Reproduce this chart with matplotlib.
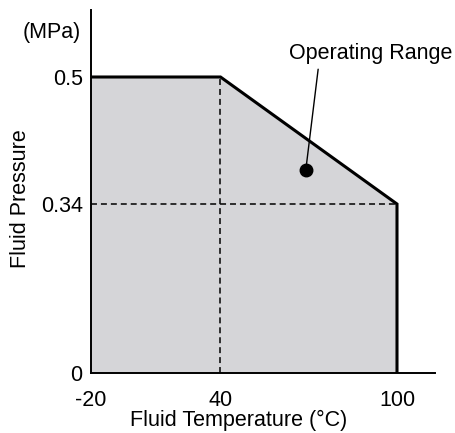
import numpy as np
import matplotlib
matplotlib.use("Agg")
import matplotlib.pyplot as plt

# ---- data ----
temp = [-20, 40, 100]            # fluid temperature (°C) boundary points
pressure = [0.5, 0.5, 0.34]      # max fluid pressure (MPa) at those temperatures
x_ticks = [-20, 40, 100]
x_ticklabels = ["-20", "40", "100"]
y_ticks = [0, 0.34, 0.5]
y_ticklabels = ["0", "0.34", "0.5"]
op_point = (69, 0.383)           # "Operating Range" marker
label_text = "Operating Range"
x_title = "Fluid Temperature (°C)"
y_title = "Fluid Pressure"
y_unit = "(MPa)"

# ---- schematic (non-linear) axis scales: value knots -> display knots ----
XK_VAL = [-20, 40, 100, 160]
XK_POS = [0.0, 129.5, 306.0, 483.0]
YK_VAL = [0, 0.34, 0.5, 0.66]
YK_POS = [0.0, 169.0, 296.0, 423.0]

def fwd_x(v):
    return np.interp(v, XK_VAL, XK_POS)

def inv_x(p):
    return np.interp(p, XK_POS, XK_VAL)

def fwd_y(v):
    return np.interp(v, YK_VAL, YK_POS)

def inv_y(p):
    return np.interp(p, YK_POS, YK_VAL)

plt.rcParams['font.family'] = ['Liberation Sans', 'DejaVu Sans']
FS = 15.5

fig = plt.figure(figsize=(4.56, 4.33), dpi=100)
ax = fig.add_axes([91 / 456, 60 / 433, (435 - 91) / 456, (373 - 10) / 433])
ax.set_xscale('function', functions=(fwd_x, inv_x))
ax.set_yscale('function', functions=(fwd_y, inv_y))
ax.set_xlim(-20, inv_x(344))
ax.set_ylim(0, inv_y(363))

# filled operating region
ax.fill_between(temp, pressure, 0, color='#d5d5d8', lw=0, zorder=1)

# dashed reference lines
dash = (0, (3.9, 2.6))
ax.plot([temp[0], temp[-1]], [pressure[-1], pressure[-1]], color='black',
        lw=1.1, linestyle=dash, zorder=2)
ax.plot([temp[1], temp[1]], [0, pressure[1]], color='black',
        lw=1.1, linestyle=dash, zorder=2)

# boundary
ax.plot(temp + [temp[-1]], pressure + [0], color='black', lw=2.2,
        solid_joinstyle='miter', zorder=3)

# operating range marker + leader
ax.plot([op_point[0]], [op_point[1]], 'o', color='black', ms=9, zorder=5)
ax.annotate(label_text, xy=op_point, xytext=(91.2, 0.530), textcoords='data',
            ha='center', va='center', fontsize=FS,
            arrowprops=dict(arrowstyle='-', color='black', lw=1.0,
                            relpos=(0.18, 0.0), shrinkA=2, shrinkB=0),
            zorder=4)

# spines
for s in ['top', 'right']:
    ax.spines[s].set_visible(False)
for s in ['left', 'bottom']:
    ax.spines[s].set_linewidth(1.4)

ax.set_xticks(x_ticks)
ax.set_xticklabels(x_ticklabels)
ax.set_yticks(y_ticks)
ax.set_yticklabels(y_ticklabels)
ax.minorticks_off()
ax.tick_params(axis='x', length=0, pad=12, labelsize=FS)
ax.tick_params(axis='y', length=0, pad=6, labelsize=FS)

ax.text(-10 / 344, (373 - 32) / 363, y_unit, transform=ax.transAxes,
        ha='right', va='center', fontsize=FS)

ax.set_xlabel(x_title, fontsize=FS, va='center')
ax.xaxis.set_label_coords((239 - 91) / 344, -(420 - 373) / 363)
ax.set_ylabel(y_title, fontsize=FS, va='center')
ax.yaxis.set_label_coords((20 - 91) / 344, (373 - 199) / 363)

fig.savefig('out.png', dpi=100)
